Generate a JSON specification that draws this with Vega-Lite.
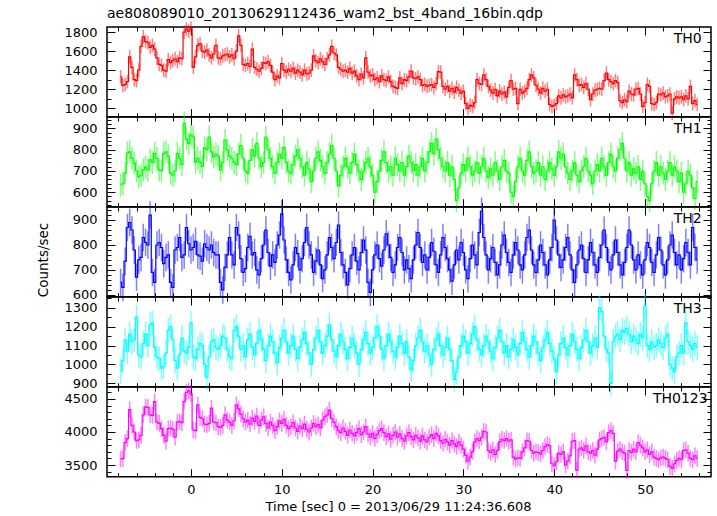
{
"$schema":"https://vega.github.io/schema/vega-lite/v6.json",
"background":"white",
"padding":{"left":35,"top":6,"right":6,"bottom":3},
"bounds":"flush",
"spacing":0,
"title":{"text":"ae808089010_20130629112436_wam2_bst_4band_16bin.qdp","anchor":"start","frame":"group","font":"DejaVu Sans","fontSize":14,"fontWeight":"normal","color":"#000","baseline":"alphabetic","offset":-12},
"config":{"view":{"stroke":"#000","strokeWidth":1.5},"concat":{"spacing":0},
"axis":{"grid":false,"domain":false,"tickColor":"#000","tickWidth":1,"labelFont":"DejaVu Sans","labelFontSize":13,"labelColor":"#000","titleFont":"DejaVu Sans","titleFontSize":13.5,"titleFontWeight":"normal","titleColor":"#000","labelOverlap":false,"labelFlush":false}},
"data":{"values":[
{"t":-7.75,"a":1330,"b":634,"c":650,"d":965,"e":3590,"ea":72,"eb":54,"ec":55,"ed":66,"ee":125},
{"t":-7.5,"a":1240,"b":640,"c":630,"d":1020,"e":3600,"ea":72,"eb":54,"ec":55,"ed":66,"ee":125},
{"t":-7.25,"a":1250,"b":690,"c":735,"d":1130,"e":3840,"ea":72,"eb":54,"ec":55,"ed":66,"ee":125},
{"t":-7,"a":1280,"b":784,"c":870,"d":1070,"e":3900,"ea":72,"eb":54,"ec":55,"ed":66,"ee":125},
{"t":-6.75,"a":1540,"b":790,"c":890,"d":1160,"e":4340,"ea":72,"eb":54,"ec":55,"ed":66,"ee":125},
{"t":-6.5,"a":1430,"b":760,"c":860,"d":1120,"e":4100,"ea":72,"eb":54,"ec":55,"ed":66,"ee":125},
{"t":-6.25,"a":1300,"b":737,"c":780,"d":1130,"e":4000,"ea":72,"eb":54,"ec":55,"ed":66,"ee":125},
{"t":-6,"a":1290,"b":700,"c":671,"d":1250,"e":3870,"ea":72,"eb":54,"ec":55,"ed":66,"ee":125},
{"t":-5.75,"a":1400,"b":672,"c":740,"d":1050,"e":3880,"ea":72,"eb":54,"ec":55,"ed":66,"ee":125},
{"t":-5.5,"a":1650,"b":680,"c":750,"d":1040,"e":3950,"ea":72,"eb":54,"ec":55,"ed":66,"ee":125},
{"t":-5.25,"a":1750,"b":705,"c":830,"d":1110,"e":4260,"ea":72,"eb":54,"ec":55,"ed":66,"ee":125},
{"t":-5,"a":1700,"b":720,"c":810,"d":1160,"e":4380,"ea":72,"eb":54,"ec":55,"ed":66,"ee":125},
{"t":-4.75,"a":1690,"b":705,"c":800,"d":1100,"e":4370,"ea":72,"eb":54,"ec":55,"ed":66,"ee":125},
{"t":-4.5,"a":1640,"b":752,"c":920,"d":1210,"e":4260,"ea":72,"eb":54,"ec":55,"ed":66,"ee":125},
{"t":-4.25,"a":1660,"b":740,"c":690,"d":1220,"e":4250,"ea":72,"eb":54,"ec":55,"ed":66,"ee":125},
{"t":-4,"a":1620,"b":783,"c":650,"d":1090,"e":4460,"ea":72,"eb":54,"ec":55,"ed":66,"ee":125},
{"t":-3.75,"a":1530,"b":760,"c":800,"d":1040,"e":4150,"ea":72,"eb":54,"ec":55,"ed":66,"ee":125},
{"t":-3.5,"a":1460,"b":705,"c":810,"d":1030,"e":4130,"ea":72,"eb":54,"ec":55,"ed":66,"ee":125},
{"t":-3.25,"a":1450,"b":700,"c":790,"d":980,"e":4050,"ea":72,"eb":54,"ec":55,"ed":66,"ee":125},
{"t":-3,"a":1400,"b":783,"c":725,"d":990,"e":3950,"ea":72,"eb":54,"ec":55,"ed":66,"ee":125},
{"t":-2.75,"a":1390,"b":790,"c":750,"d":1060,"e":3860,"ea":72,"eb":54,"ec":55,"ed":66,"ee":125},
{"t":-2.5,"a":1510,"b":770,"c":760,"d":1180,"e":4050,"ea":72,"eb":54,"ec":55,"ed":66,"ee":125},
{"t":-2.25,"a":1480,"b":690,"c":650,"d":1200,"e":4060,"ea":72,"eb":54,"ec":55,"ed":66,"ee":125},
{"t":-2,"a":1500,"b":680,"c":630,"d":1130,"e":4040,"ea":72,"eb":54,"ec":55,"ed":66,"ee":125},
{"t":-1.75,"a":1520,"b":700,"c":780,"d":1020,"e":3920,"ea":72,"eb":54,"ec":55,"ed":66,"ee":125},
{"t":-1.5,"a":1490,"b":783,"c":790,"d":980,"e":4150,"ea":72,"eb":54,"ec":55,"ed":66,"ee":125},
{"t":-1.25,"a":1530,"b":760,"c":830,"d":1050,"e":4160,"ea":72,"eb":54,"ec":55,"ed":66,"ee":125},
{"t":-1,"a":1520,"b":730,"c":750,"d":1140,"e":4140,"ea":72,"eb":54,"ec":55,"ed":66,"ee":125},
{"t":-0.75,"a":1800,"b":925,"c":760,"d":1070,"e":4460,"ea":72,"eb":54,"ec":55,"ed":66,"ee":125},
{"t":-0.5,"a":1830,"b":850,"c":870,"d":1060,"e":4600,"ea":72,"eb":54,"ec":55,"ed":66,"ee":125},
{"t":-0.25,"a":1810,"b":830,"c":805,"d":1090,"e":4620,"ea":72,"eb":54,"ec":55,"ed":66,"ee":125},
{"t":0,"a":1840,"b":870,"c":780,"d":1220,"e":4580,"ea":72,"eb":54,"ec":55,"ed":66,"ee":125},
{"t":0.25,"a":1430,"b":860,"c":790,"d":1040,"e":4030,"ea":72,"eb":54,"ec":55,"ed":66,"ee":125},
{"t":0.5,"a":1540,"b":742,"c":815,"d":1030,"e":4020,"ea":72,"eb":54,"ec":55,"ed":66,"ee":125},
{"t":0.75,"a":1660,"b":760,"c":760,"d":1080,"e":4410,"ea":72,"eb":54,"ec":55,"ed":66,"ee":125},
{"t":1,"a":1680,"b":740,"c":755,"d":1110,"e":4220,"ea":72,"eb":54,"ec":55,"ed":66,"ee":125},
{"t":1.25,"a":1600,"b":720,"c":735,"d":1100,"e":4200,"ea":72,"eb":54,"ec":55,"ed":66,"ee":125},
{"t":1.5,"a":1590,"b":810,"c":805,"d":1000,"e":4120,"ea":72,"eb":54,"ec":55,"ed":66,"ee":125},
{"t":1.75,"a":1610,"b":800,"c":790,"d":930,"e":4110,"ea":72,"eb":54,"ec":55,"ed":66,"ee":125},
{"t":2,"a":1560,"b":860,"c":780,"d":1040,"e":4130,"ea":72,"eb":54,"ec":55,"ed":66,"ee":125},
{"t":2.25,"a":1530,"b":790,"c":800,"d":1120,"e":4360,"ea":72,"eb":54,"ec":55,"ed":66,"ee":125},
{"t":2.5,"a":1570,"b":766,"c":770,"d":1130,"e":4150,"ea":72,"eb":54,"ec":55,"ed":66,"ee":125},
{"t":2.75,"a":1660,"b":780,"c":760,"d":1090,"e":4140,"ea":72,"eb":54,"ec":55,"ed":66,"ee":125},
{"t":3,"a":1530,"b":770,"c":760,"d":1080,"e":4080,"ea":72,"eb":54,"ec":55,"ed":66,"ee":125},
{"t":3.25,"a":1520,"b":705,"c":650,"d":1100,"e":4070,"ea":72,"eb":54,"ec":55,"ed":66,"ee":125},
{"t":3.5,"a":1550,"b":740,"c":620,"d":1150,"e":4100,"ea":72,"eb":54,"ec":55,"ed":66,"ee":125},
{"t":3.75,"a":1560,"b":845,"c":710,"d":1140,"e":4260,"ea":72,"eb":54,"ec":55,"ed":66,"ee":125},
{"t":4,"a":1570,"b":800,"c":760,"d":1080,"e":4180,"ea":72,"eb":54,"ec":55,"ed":66,"ee":125},
{"t":4.25,"a":1540,"b":770,"c":830,"d":1040,"e":4150,"ea":72,"eb":54,"ec":55,"ed":66,"ee":125},
{"t":4.5,"a":1560,"b":760,"c":760,"d":1030,"e":4100,"ea":72,"eb":54,"ec":55,"ed":66,"ee":125},
{"t":4.75,"a":1520,"b":740,"c":720,"d":1180,"e":4170,"ea":72,"eb":54,"ec":55,"ed":66,"ee":125},
{"t":5,"a":1600,"b":730,"c":870,"d":1200,"e":4410,"ea":72,"eb":54,"ec":55,"ed":66,"ee":125},
{"t":5.25,"a":1760,"b":780,"c":840,"d":1150,"e":4350,"ea":72,"eb":54,"ec":55,"ed":66,"ee":125},
{"t":5.5,"a":1660,"b":820,"c":745,"d":1080,"e":4270,"ea":72,"eb":54,"ec":55,"ed":66,"ee":125},
{"t":5.75,"a":1460,"b":760,"c":690,"d":1100,"e":4200,"ea":72,"eb":54,"ec":55,"ed":66,"ee":125},
{"t":6,"a":1450,"b":700,"c":705,"d":1040,"e":4150,"ea":72,"eb":54,"ec":55,"ed":66,"ee":125},
{"t":6.25,"a":1470,"b":690,"c":790,"d":1130,"e":4180,"ea":72,"eb":54,"ec":55,"ed":66,"ee":125},
{"t":6.5,"a":1440,"b":750,"c":835,"d":1160,"e":4120,"ea":72,"eb":54,"ec":55,"ed":66,"ee":125},
{"t":6.75,"a":1620,"b":800,"c":760,"d":1090,"e":4210,"ea":72,"eb":54,"ec":55,"ed":66,"ee":125},
{"t":7,"a":1430,"b":770,"c":770,"d":1050,"e":4160,"ea":72,"eb":54,"ec":55,"ed":66,"ee":125},
{"t":7.25,"a":1410,"b":830,"c":700,"d":1110,"e":4240,"ea":72,"eb":54,"ec":55,"ed":66,"ee":125},
{"t":7.5,"a":1390,"b":760,"c":680,"d":1180,"e":4100,"ea":72,"eb":54,"ec":55,"ed":66,"ee":125},
{"t":7.75,"a":1420,"b":720,"c":745,"d":1130,"e":4180,"ea":72,"eb":54,"ec":55,"ed":66,"ee":125},
{"t":8,"a":1480,"b":740,"c":800,"d":1080,"e":4230,"ea":72,"eb":54,"ec":55,"ed":66,"ee":125},
{"t":8.25,"a":1470,"b":860,"c":860,"d":1020,"e":4130,"ea":72,"eb":54,"ec":55,"ed":66,"ee":125},
{"t":8.5,"a":1490,"b":800,"c":770,"d":1100,"e":4060,"ea":72,"eb":54,"ec":55,"ed":66,"ee":125},
{"t":8.75,"a":1450,"b":760,"c":715,"d":1150,"e":4150,"ea":72,"eb":54,"ec":55,"ed":66,"ee":125},
{"t":9,"a":1380,"b":720,"c":760,"d":1120,"e":4100,"ea":72,"eb":54,"ec":55,"ed":66,"ee":125},
{"t":9.25,"a":1300,"b":690,"c":730,"d":1060,"e":4020,"ea":72,"eb":54,"ec":55,"ed":66,"ee":125},
{"t":9.5,"a":1340,"b":740,"c":800,"d":1010,"e":4080,"ea":72,"eb":54,"ec":55,"ed":66,"ee":125},
{"t":9.75,"a":1320,"b":780,"c":840,"d":1090,"e":4170,"ea":72,"eb":54,"ec":55,"ed":66,"ee":125},
{"t":10,"a":1470,"b":760,"c":925,"d":1140,"e":4130,"ea":72,"eb":54,"ec":55,"ed":66,"ee":125},
{"t":10.25,"a":1400,"b":810,"c":820,"d":1180,"e":4190,"ea":72,"eb":54,"ec":55,"ed":66,"ee":125},
{"t":10.5,"a":1380,"b":740,"c":740,"d":1120,"e":4100,"ea":72,"eb":54,"ec":55,"ed":66,"ee":125},
{"t":10.75,"a":1410,"b":700,"c":690,"d":1060,"e":4050,"ea":72,"eb":54,"ec":55,"ed":66,"ee":125},
{"t":11,"a":1390,"b":690,"c":660,"d":1100,"e":4080,"ea":72,"eb":54,"ec":55,"ed":66,"ee":125},
{"t":11.25,"a":1420,"b":730,"c":720,"d":1150,"e":4140,"ea":72,"eb":54,"ec":55,"ed":66,"ee":125},
{"t":11.5,"a":1370,"b":770,"c":790,"d":1080,"e":4060,"ea":72,"eb":54,"ec":55,"ed":66,"ee":125},
{"t":11.75,"a":1400,"b":800,"c":765,"d":1030,"e":4010,"ea":72,"eb":54,"ec":55,"ed":66,"ee":125},
{"t":12,"a":1380,"b":760,"c":700,"d":1090,"e":4090,"ea":72,"eb":54,"ec":55,"ed":66,"ee":125},
{"t":12.25,"a":1350,"b":720,"c":745,"d":1130,"e":4050,"ea":72,"eb":54,"ec":55,"ed":66,"ee":125},
{"t":12.5,"a":1400,"b":680,"c":810,"d":1170,"e":4120,"ea":72,"eb":54,"ec":55,"ed":66,"ee":125},
{"t":12.75,"a":1360,"b":740,"c":870,"d":1110,"e":4040,"ea":72,"eb":54,"ec":55,"ed":66,"ee":125},
{"t":13,"a":1370,"b":710,"c":800,"d":1060,"e":4000,"ea":72,"eb":54,"ec":55,"ed":66,"ee":125},
{"t":13.25,"a":1400,"b":650,"c":760,"d":1000,"e":4060,"ea":72,"eb":54,"ec":55,"ed":66,"ee":125},
{"t":13.5,"a":1550,"b":700,"c":690,"d":1080,"e":4130,"ea":72,"eb":54,"ec":55,"ed":66,"ee":125},
{"t":13.75,"a":1500,"b":760,"c":735,"d":1140,"e":4080,"ea":72,"eb":54,"ec":55,"ed":66,"ee":125},
{"t":14,"a":1480,"b":790,"c":780,"d":1180,"e":4110,"ea":72,"eb":54,"ec":55,"ed":66,"ee":125},
{"t":14.25,"a":1520,"b":750,"c":720,"d":1120,"e":4060,"ea":72,"eb":54,"ec":55,"ed":66,"ee":125},
{"t":14.5,"a":1490,"b":720,"c":665,"d":1060,"e":4180,"ea":72,"eb":54,"ec":55,"ed":66,"ee":125},
{"t":14.75,"a":1460,"b":690,"c":700,"d":1100,"e":4230,"ea":72,"eb":54,"ec":55,"ed":66,"ee":125},
{"t":15,"a":1520,"b":740,"c":760,"d":1150,"e":4260,"ea":72,"eb":54,"ec":55,"ed":66,"ee":125},
{"t":15.25,"a":1560,"b":780,"c":830,"d":1210,"e":4330,"ea":72,"eb":54,"ec":55,"ed":66,"ee":125},
{"t":15.5,"a":1650,"b":820,"c":790,"d":1130,"e":4200,"ea":72,"eb":54,"ec":55,"ed":66,"ee":125},
{"t":15.75,"a":1580,"b":760,"c":745,"d":1070,"e":4150,"ea":72,"eb":54,"ec":55,"ed":66,"ee":125},
{"t":16,"a":1560,"b":700,"c":810,"d":1040,"e":4080,"ea":72,"eb":54,"ec":55,"ed":66,"ee":125},
{"t":16.25,"a":1430,"b":630,"c":880,"d":1100,"e":4020,"ea":72,"eb":54,"ec":55,"ed":66,"ee":125},
{"t":16.5,"a":1410,"b":680,"c":770,"d":1160,"e":3990,"ea":72,"eb":54,"ec":55,"ed":66,"ee":125},
{"t":16.75,"a":1390,"b":720,"c":720,"d":1120,"e":4060,"ea":72,"eb":54,"ec":55,"ed":66,"ee":125},
{"t":17,"a":1400,"b":760,"c":690,"d":1080,"e":4010,"ea":72,"eb":54,"ec":55,"ed":66,"ee":125},
{"t":17.25,"a":1380,"b":720,"c":640,"d":1030,"e":3950,"ea":72,"eb":54,"ec":55,"ed":66,"ee":125},
{"t":17.5,"a":1420,"b":690,"c":705,"d":1090,"e":4030,"ea":72,"eb":54,"ec":55,"ed":66,"ee":125},
{"t":17.75,"a":1370,"b":740,"c":760,"d":1140,"e":3980,"ea":72,"eb":54,"ec":55,"ed":66,"ee":125},
{"t":18,"a":1390,"b":780,"c":790,"d":1100,"e":3940,"ea":72,"eb":54,"ec":55,"ed":66,"ee":125},
{"t":18.25,"a":1340,"b":730,"c":735,"d":1060,"e":3990,"ea":72,"eb":54,"ec":55,"ed":66,"ee":125},
{"t":18.5,"a":1300,"b":700,"c":700,"d":1000,"e":4050,"ea":72,"eb":54,"ec":55,"ed":66,"ee":125},
{"t":18.75,"a":1360,"b":660,"c":770,"d":1080,"e":3960,"ea":72,"eb":54,"ec":55,"ed":66,"ee":125},
{"t":19,"a":1320,"b":700,"c":820,"d":1130,"e":4000,"ea":72,"eb":54,"ec":55,"ed":66,"ee":125},
{"t":19.25,"a":1530,"b":740,"c":780,"d":1170,"e":4080,"ea":72,"eb":54,"ec":55,"ed":66,"ee":125},
{"t":19.5,"a":1380,"b":760,"c":650,"d":1110,"e":3970,"ea":72,"eb":54,"ec":55,"ed":66,"ee":125},
{"t":19.75,"a":1340,"b":720,"c":610,"d":1060,"e":3920,"ea":72,"eb":54,"ec":55,"ed":66,"ee":125},
{"t":20,"a":1350,"b":680,"c":700,"d":1090,"e":3980,"ea":72,"eb":54,"ec":55,"ed":66,"ee":125},
{"t":20.25,"a":1300,"b":600,"c":760,"d":1140,"e":3900,"ea":72,"eb":54,"ec":55,"ed":66,"ee":125},
{"t":20.5,"a":1320,"b":650,"c":800,"d":1200,"e":3960,"ea":72,"eb":54,"ec":55,"ed":66,"ee":125},
{"t":20.75,"a":1280,"b":700,"c":745,"d":1150,"e":4020,"ea":72,"eb":54,"ec":55,"ed":66,"ee":125},
{"t":21,"a":1340,"b":750,"c":715,"d":1080,"e":4050,"ea":72,"eb":54,"ec":55,"ed":66,"ee":125},
{"t":21.25,"a":1300,"b":790,"c":780,"d":1030,"e":3990,"ea":72,"eb":54,"ec":55,"ed":66,"ee":125},
{"t":21.5,"a":1290,"b":740,"c":845,"d":1100,"e":3930,"ea":72,"eb":54,"ec":55,"ed":66,"ee":125},
{"t":21.75,"a":1330,"b":700,"c":800,"d":1160,"e":3970,"ea":72,"eb":54,"ec":55,"ed":66,"ee":125},
{"t":22,"a":1280,"b":720,"c":750,"d":1120,"e":3890,"ea":72,"eb":54,"ec":55,"ed":66,"ee":125},
{"t":22.25,"a":1230,"b":680,"c":690,"d":1070,"e":3950,"ea":72,"eb":54,"ec":55,"ed":66,"ee":125},
{"t":22.5,"a":1220,"b":760,"c":720,"d":1040,"e":4000,"ea":72,"eb":54,"ec":55,"ed":66,"ee":125},
{"t":22.75,"a":1210,"b":730,"c":790,"d":1090,"e":3920,"ea":72,"eb":54,"ec":55,"ed":66,"ee":125},
{"t":23,"a":1320,"b":700,"c":830,"d":1150,"e":3970,"ea":72,"eb":54,"ec":55,"ed":66,"ee":125},
{"t":23.25,"a":1260,"b":740,"c":770,"d":1110,"e":3900,"ea":72,"eb":54,"ec":55,"ed":66,"ee":125},
{"t":23.5,"a":1300,"b":680,"c":700,"d":1060,"e":3860,"ea":72,"eb":54,"ec":55,"ed":66,"ee":125},
{"t":23.75,"a":1290,"b":720,"c":740,"d":1120,"e":3940,"ea":72,"eb":54,"ec":55,"ed":66,"ee":125},
{"t":24,"a":1330,"b":770,"c":705,"d":1040,"e":3990,"ea":72,"eb":54,"ec":55,"ed":66,"ee":125},
{"t":24.25,"a":1390,"b":740,"c":665,"d":970,"e":3930,"ea":72,"eb":54,"ec":55,"ed":66,"ee":125},
{"t":24.5,"a":1320,"b":700,"c":740,"d":1020,"e":3880,"ea":72,"eb":54,"ec":55,"ed":66,"ee":125},
{"t":24.75,"a":1310,"b":730,"c":800,"d":1100,"e":3950,"ea":72,"eb":54,"ec":55,"ed":66,"ee":125},
{"t":25,"a":1330,"b":680,"c":850,"d":1140,"e":3910,"ea":72,"eb":54,"ec":55,"ed":66,"ee":125},
{"t":25.25,"a":1300,"b":720,"c":790,"d":1180,"e":3860,"ea":72,"eb":54,"ec":55,"ed":66,"ee":125},
{"t":25.5,"a":1240,"b":760,"c":730,"d":1120,"e":3940,"ea":72,"eb":54,"ec":55,"ed":66,"ee":125},
{"t":25.75,"a":1250,"b":700,"c":760,"d":1070,"e":3880,"ea":72,"eb":54,"ec":55,"ed":66,"ee":125},
{"t":26,"a":1230,"b":740,"c":700,"d":1100,"e":3850,"ea":72,"eb":54,"ec":55,"ed":66,"ee":125},
{"t":26.25,"a":1240,"b":790,"c":750,"d":1050,"e":3920,"ea":72,"eb":54,"ec":55,"ed":66,"ee":125},
{"t":26.5,"a":1250,"b":830,"c":810,"d":1000,"e":3960,"ea":72,"eb":54,"ec":55,"ed":66,"ee":125},
{"t":26.75,"a":1220,"b":780,"c":775,"d":1080,"e":3900,"ea":72,"eb":54,"ec":55,"ed":66,"ee":125},
{"t":27,"a":1260,"b":850,"c":720,"d":1130,"e":3980,"ea":72,"eb":54,"ec":55,"ed":66,"ee":125},
{"t":27.25,"a":1385,"b":800,"c":690,"d":1160,"e":3940,"ea":72,"eb":54,"ec":55,"ed":66,"ee":125},
{"t":27.5,"a":1380,"b":760,"c":760,"d":1100,"e":3870,"ea":72,"eb":54,"ec":55,"ed":66,"ee":125},
{"t":27.75,"a":1230,"b":720,"c":830,"d":1050,"e":3830,"ea":72,"eb":54,"ec":55,"ed":66,"ee":125},
{"t":28,"a":1200,"b":700,"c":790,"d":1090,"e":3890,"ea":72,"eb":54,"ec":55,"ed":66,"ee":125},
{"t":28.25,"a":1230,"b":740,"c":745,"d":1140,"e":3850,"ea":72,"eb":54,"ec":55,"ed":66,"ee":125},
{"t":28.5,"a":1180,"b":680,"c":700,"d":1080,"e":3800,"ea":72,"eb":54,"ec":55,"ed":66,"ee":125},
{"t":28.75,"a":1210,"b":720,"c":655,"d":1020,"e":3870,"ea":72,"eb":54,"ec":55,"ed":66,"ee":125},
{"t":29,"a":1170,"b":660,"c":720,"d":920,"e":3820,"ea":72,"eb":54,"ec":55,"ed":66,"ee":125},
{"t":29.25,"a":1220,"b":560,"c":780,"d":960,"e":3780,"ea":72,"eb":54,"ec":55,"ed":66,"ee":125},
{"t":29.5,"a":1190,"b":620,"c":740,"d":1040,"e":3850,"ea":72,"eb":54,"ec":55,"ed":66,"ee":125},
{"t":29.75,"a":1160,"b":690,"c":810,"d":1100,"e":3800,"ea":72,"eb":54,"ec":55,"ed":66,"ee":125},
{"t":30,"a":1180,"b":730,"c":770,"d":1150,"e":3740,"ea":72,"eb":54,"ec":55,"ed":66,"ee":125},
{"t":30.25,"a":1050,"b":700,"c":700,"d":1120,"e":3650,"ea":72,"eb":54,"ec":55,"ed":66,"ee":125},
{"t":30.5,"a":1000,"b":760,"c":665,"d":1060,"e":3560,"ea":72,"eb":54,"ec":55,"ed":66,"ee":125},
{"t":30.75,"a":1030,"b":720,"c":745,"d":1110,"e":3620,"ea":72,"eb":54,"ec":55,"ed":66,"ee":125},
{"t":31,"a":1020,"b":680,"c":800,"d":1160,"e":3700,"ea":72,"eb":54,"ec":55,"ed":66,"ee":125},
{"t":31.25,"a":1060,"b":700,"c":760,"d":1200,"e":3850,"ea":72,"eb":54,"ec":55,"ed":66,"ee":125},
{"t":31.5,"a":1300,"b":740,"c":720,"d":1130,"e":3900,"ea":72,"eb":54,"ec":55,"ed":66,"ee":125},
{"t":31.75,"a":1260,"b":690,"c":850,"d":1080,"e":3870,"ea":72,"eb":54,"ec":55,"ed":66,"ee":125},
{"t":32,"a":1250,"b":720,"c":935,"d":1050,"e":3920,"ea":72,"eb":54,"ec":55,"ed":66,"ee":125},
{"t":32.25,"a":1350,"b":760,"c":830,"d":1100,"e":4010,"ea":72,"eb":54,"ec":55,"ed":66,"ee":125},
{"t":32.5,"a":1300,"b":700,"c":760,"d":1150,"e":4000,"ea":72,"eb":54,"ec":55,"ed":66,"ee":125},
{"t":32.75,"a":1230,"b":670,"c":700,"d":1120,"e":3720,"ea":72,"eb":54,"ec":55,"ed":66,"ee":125},
{"t":33,"a":1190,"b":710,"c":745,"d":1070,"e":3690,"ea":72,"eb":54,"ec":55,"ed":66,"ee":125},
{"t":33.25,"a":1160,"b":680,"c":790,"d":1030,"e":3730,"ea":72,"eb":54,"ec":55,"ed":66,"ee":125},
{"t":33.5,"a":1200,"b":740,"c":730,"d":1090,"e":3660,"ea":72,"eb":54,"ec":55,"ed":66,"ee":125},
{"t":33.75,"a":1130,"b":700,"c":680,"d":1140,"e":3720,"ea":72,"eb":54,"ec":55,"ed":66,"ee":125},
{"t":34,"a":1180,"b":660,"c":720,"d":1180,"e":3850,"ea":72,"eb":54,"ec":55,"ed":66,"ee":125},
{"t":34.25,"a":1150,"b":720,"c":800,"d":1120,"e":3890,"ea":72,"eb":54,"ec":55,"ed":66,"ee":125},
{"t":34.5,"a":1170,"b":750,"c":840,"d":1060,"e":3870,"ea":72,"eb":54,"ec":55,"ed":66,"ee":125},
{"t":34.75,"a":1120,"b":700,"c":770,"d":1100,"e":3900,"ea":72,"eb":54,"ec":55,"ed":66,"ee":125},
{"t":35,"a":1220,"b":690,"c":730,"d":1040,"e":3860,"ea":72,"eb":54,"ec":55,"ed":66,"ee":125},
{"t":35.25,"a":1290,"b":600,"c":690,"d":1080,"e":3880,"ea":72,"eb":54,"ec":55,"ed":66,"ee":125},
{"t":35.5,"a":1200,"b":580,"c":760,"d":1130,"e":3620,"ea":72,"eb":54,"ec":55,"ed":66,"ee":125},
{"t":35.75,"a":1210,"b":650,"c":810,"d":1090,"e":3590,"ea":72,"eb":54,"ec":55,"ed":66,"ee":125},
{"t":36,"a":1050,"b":720,"c":780,"d":1050,"e":3610,"ea":72,"eb":54,"ec":55,"ed":66,"ee":125},
{"t":36.25,"a":1200,"b":760,"c":720,"d":1110,"e":3600,"ea":72,"eb":54,"ec":55,"ed":66,"ee":125},
{"t":36.5,"a":1160,"b":700,"c":700,"d":1170,"e":3700,"ea":72,"eb":54,"ec":55,"ed":66,"ee":125},
{"t":36.75,"a":1180,"b":680,"c":760,"d":1120,"e":3760,"ea":72,"eb":54,"ec":55,"ed":66,"ee":125},
{"t":37,"a":1210,"b":750,"c":830,"d":1080,"e":3870,"ea":72,"eb":54,"ec":55,"ed":66,"ee":125},
{"t":37.25,"a":1300,"b":790,"c":860,"d":1040,"e":3860,"ea":72,"eb":54,"ec":55,"ed":66,"ee":125},
{"t":37.5,"a":1350,"b":720,"c":780,"d":1100,"e":3720,"ea":72,"eb":54,"ec":55,"ed":66,"ee":125},
{"t":37.75,"a":1320,"b":690,"c":720,"d":1150,"e":3680,"ea":72,"eb":54,"ec":55,"ed":66,"ee":125},
{"t":38,"a":1240,"b":700,"c":690,"d":1120,"e":3700,"ea":72,"eb":54,"ec":55,"ed":66,"ee":125},
{"t":38.25,"a":1200,"b":740,"c":740,"d":1060,"e":3690,"ea":72,"eb":54,"ec":55,"ed":66,"ee":125},
{"t":38.5,"a":1160,"b":680,"c":800,"d":1020,"e":3670,"ea":72,"eb":54,"ec":55,"ed":66,"ee":125},
{"t":38.75,"a":1210,"b":720,"c":770,"d":1090,"e":3720,"ea":72,"eb":54,"ec":55,"ed":66,"ee":125},
{"t":39,"a":1180,"b":660,"c":720,"d":1130,"e":3780,"ea":72,"eb":54,"ec":55,"ed":66,"ee":125},
{"t":39.25,"a":1200,"b":700,"c":680,"d":1170,"e":3810,"ea":72,"eb":54,"ec":55,"ed":66,"ee":125},
{"t":39.5,"a":1040,"b":740,"c":740,"d":1110,"e":3790,"ea":72,"eb":54,"ec":55,"ed":66,"ee":125},
{"t":39.75,"a":1020,"b":710,"c":790,"d":1070,"e":3520,"ea":72,"eb":54,"ec":55,"ed":66,"ee":125},
{"t":40,"a":1030,"b":680,"c":900,"d":1030,"e":3490,"ea":72,"eb":54,"ec":55,"ed":66,"ee":125},
{"t":40.25,"a":1050,"b":720,"c":820,"d":960,"e":3550,"ea":72,"eb":54,"ec":55,"ed":66,"ee":125},
{"t":40.5,"a":1130,"b":790,"c":760,"d":1050,"e":3680,"ea":72,"eb":54,"ec":55,"ed":66,"ee":125},
{"t":40.75,"a":1110,"b":760,"c":710,"d":1110,"e":3660,"ea":72,"eb":54,"ec":55,"ed":66,"ee":125},
{"t":41,"a":1140,"b":780,"c":740,"d":1140,"e":3700,"ea":72,"eb":54,"ec":55,"ed":66,"ee":125},
{"t":41.25,"a":1120,"b":720,"c":790,"d":1090,"e":3500,"ea":72,"eb":54,"ec":55,"ed":66,"ee":125},
{"t":41.5,"a":1130,"b":690,"c":830,"d":1050,"e":3560,"ea":72,"eb":54,"ec":55,"ed":66,"ee":125},
{"t":41.75,"a":1150,"b":660,"c":760,"d":1100,"e":3640,"ea":72,"eb":54,"ec":55,"ed":66,"ee":125},
{"t":42,"a":1110,"b":700,"c":700,"d":1160,"e":3860,"ea":72,"eb":54,"ec":55,"ed":66,"ee":125},
{"t":42.25,"a":1350,"b":740,"c":650,"d":1120,"e":3870,"ea":72,"eb":54,"ec":55,"ed":66,"ee":125},
{"t":42.5,"a":1300,"b":680,"c":720,"d":1080,"e":3420,"ea":72,"eb":54,"ec":55,"ed":66,"ee":125},
{"t":42.75,"a":1240,"b":650,"c":780,"d":1030,"e":3740,"ea":72,"eb":54,"ec":55,"ed":66,"ee":125},
{"t":43,"a":1250,"b":700,"c":800,"d":1090,"e":3760,"ea":72,"eb":54,"ec":55,"ed":66,"ee":125},
{"t":43.25,"a":1220,"b":720,"c":745,"d":1130,"e":3720,"ea":72,"eb":54,"ec":55,"ed":66,"ee":125},
{"t":43.5,"a":1260,"b":760,"c":690,"d":1180,"e":3790,"ea":72,"eb":54,"ec":55,"ed":66,"ee":125},
{"t":43.75,"a":1200,"b":700,"c":740,"d":1120,"e":3700,"ea":72,"eb":54,"ec":55,"ed":66,"ee":125},
{"t":44,"a":1090,"b":680,"c":810,"d":1060,"e":3680,"ea":72,"eb":54,"ec":55,"ed":66,"ee":125},
{"t":44.25,"a":1150,"b":640,"c":770,"d":1100,"e":3720,"ea":72,"eb":54,"ec":55,"ed":66,"ee":125},
{"t":44.5,"a":1190,"b":700,"c":720,"d":1140,"e":3650,"ea":72,"eb":54,"ec":55,"ed":66,"ee":125},
{"t":44.75,"a":1200,"b":730,"c":690,"d":1090,"e":3740,"ea":72,"eb":54,"ec":55,"ed":66,"ee":125},
{"t":45,"a":1210,"b":700,"c":750,"d":1300,"e":3880,"ea":72,"eb":54,"ec":55,"ed":66,"ee":125},
{"t":45.25,"a":1200,"b":760,"c":800,"d":1280,"e":3900,"ea":72,"eb":54,"ec":55,"ed":66,"ee":125},
{"t":45.5,"a":1290,"b":720,"c":860,"d":1150,"e":3920,"ea":72,"eb":54,"ec":55,"ed":66,"ee":125},
{"t":45.75,"a":1370,"b":680,"c":790,"d":1080,"e":3850,"ea":72,"eb":54,"ec":55,"ed":66,"ee":125},
{"t":46,"a":1300,"b":740,"c":730,"d":1060,"e":3990,"ea":72,"eb":54,"ec":55,"ed":66,"ee":125},
{"t":46.25,"a":1280,"b":780,"c":700,"d":900,"e":4020,"ea":72,"eb":54,"ec":55,"ed":66,"ee":125},
{"t":46.5,"a":1260,"b":720,"c":760,"d":1120,"e":3980,"ea":72,"eb":54,"ec":55,"ed":66,"ee":125},
{"t":46.75,"a":1290,"b":700,"c":820,"d":1150,"e":3560,"ea":72,"eb":54,"ec":55,"ed":66,"ee":125},
{"t":47,"a":1270,"b":760,"c":770,"d":1160,"e":3710,"ea":72,"eb":54,"ec":55,"ed":66,"ee":125},
{"t":47.25,"a":1080,"b":800,"c":720,"d":1130,"e":3740,"ea":72,"eb":54,"ec":55,"ed":66,"ee":125},
{"t":47.5,"a":1060,"b":830,"c":680,"d":1180,"e":3700,"ea":72,"eb":54,"ec":55,"ed":66,"ee":125},
{"t":47.75,"a":1090,"b":760,"c":730,"d":1170,"e":3680,"ea":72,"eb":54,"ec":55,"ed":66,"ee":125},
{"t":48,"a":1070,"b":700,"c":790,"d":1190,"e":3420,"ea":72,"eb":54,"ec":55,"ed":66,"ee":125},
{"t":48.25,"a":1180,"b":740,"c":860,"d":1160,"e":3720,"ea":72,"eb":54,"ec":55,"ed":66,"ee":125},
{"t":48.5,"a":1150,"b":680,"c":800,"d":1120,"e":3690,"ea":72,"eb":54,"ec":55,"ed":66,"ee":125},
{"t":48.75,"a":1140,"b":710,"c":740,"d":1150,"e":3740,"ea":72,"eb":54,"ec":55,"ed":66,"ee":125},
{"t":49,"a":1200,"b":690,"c":700,"d":1130,"e":3700,"ea":72,"eb":54,"ec":55,"ed":66,"ee":125},
{"t":49.25,"a":1210,"b":720,"c":760,"d":1110,"e":3840,"ea":72,"eb":54,"ec":55,"ed":66,"ee":125},
{"t":49.5,"a":1150,"b":660,"c":720,"d":1160,"e":3800,"ea":72,"eb":54,"ec":55,"ed":66,"ee":125},
{"t":49.75,"a":1020,"b":700,"c":680,"d":1140,"e":3760,"ea":72,"eb":54,"ec":55,"ed":66,"ee":125},
{"t":50,"a":1060,"b":640,"c":740,"d":1310,"e":3700,"ea":72,"eb":54,"ec":55,"ed":66,"ee":125},
{"t":50.25,"a":1250,"b":580,"c":810,"d":1100,"e":3730,"ea":72,"eb":54,"ec":55,"ed":66,"ee":125},
{"t":50.5,"a":1230,"b":560,"c":790,"d":1080,"e":3660,"ea":72,"eb":54,"ec":55,"ed":66,"ee":125},
{"t":50.75,"a":1050,"b":640,"c":730,"d":1120,"e":3700,"ea":72,"eb":54,"ec":55,"ed":66,"ee":125},
{"t":51,"a":1040,"b":700,"c":690,"d":1090,"e":3620,"ea":72,"eb":54,"ec":55,"ed":66,"ee":125},
{"t":51.25,"a":1060,"b":740,"c":760,"d":1100,"e":3600,"ea":72,"eb":54,"ec":55,"ed":66,"ee":125},
{"t":51.5,"a":1150,"b":680,"c":830,"d":1130,"e":3580,"ea":72,"eb":54,"ec":55,"ed":66,"ee":125},
{"t":51.75,"a":1140,"b":720,"c":780,"d":1110,"e":3610,"ea":72,"eb":54,"ec":55,"ed":66,"ee":125},
{"t":52,"a":1160,"b":690,"c":720,"d":1090,"e":3620,"ea":72,"eb":54,"ec":55,"ed":66,"ee":125},
{"t":52.25,"a":1120,"b":660,"c":680,"d":1140,"e":3600,"ea":72,"eb":54,"ec":55,"ed":66,"ee":125},
{"t":52.5,"a":1130,"b":700,"c":740,"d":1160,"e":3580,"ea":72,"eb":54,"ec":55,"ed":66,"ee":125},
{"t":52.75,"a":1150,"b":740,"c":800,"d":1000,"e":3480,"ea":72,"eb":54,"ec":55,"ed":66,"ee":125},
{"t":53,"a":950,"b":680,"c":840,"d":980,"e":3450,"ea":72,"eb":54,"ec":55,"ed":66,"ee":125},
{"t":53.25,"a":1100,"b":720,"c":770,"d":960,"e":3520,"ea":72,"eb":54,"ec":55,"ed":66,"ee":125},
{"t":53.5,"a":1120,"b":700,"c":720,"d":1040,"e":3570,"ea":72,"eb":54,"ec":55,"ed":66,"ee":125},
{"t":53.75,"a":1110,"b":650,"c":760,"d":1060,"e":3600,"ea":72,"eb":54,"ec":55,"ed":66,"ee":125},
{"t":54,"a":1120,"b":690,"c":700,"d":1100,"e":3580,"ea":72,"eb":54,"ec":55,"ed":66,"ee":125},
{"t":54.25,"a":1090,"b":600,"c":745,"d":1060,"e":3720,"ea":72,"eb":54,"ec":55,"ed":66,"ee":125},
{"t":54.5,"a":1130,"b":640,"c":810,"d":1220,"e":3730,"ea":72,"eb":54,"ec":55,"ed":66,"ee":125},
{"t":54.75,"a":1100,"b":700,"c":770,"d":1120,"e":3680,"ea":72,"eb":54,"ec":55,"ed":66,"ee":125},
{"t":55,"a":1230,"b":680,"c":720,"d":1100,"e":3600,"ea":72,"eb":54,"ec":55,"ed":66,"ee":125},
{"t":55.25,"a":1050,"b":620,"c":870,"d":1080,"e":3580,"ea":72,"eb":54,"ec":55,"ed":66,"ee":125},
{"t":55.5,"a":1080,"b":570,"c":790,"d":1110,"e":3640,"ea":72,"eb":54,"ec":55,"ed":66,"ee":125},
{"t":55.75,"a":1040,"b":650,"c":740,"d":1090,"e":3600,"ea":72,"eb":54,"ec":55,"ed":66,"ee":125}
]},
"vconcat":[
{"width":604,"height":89.7,
"layer":[
{"mark":{"type":"errorbar","color":"#ff0000","opacity":0.5,"thickness":1.5},
"encoding":{
"x":{"field":"t","type":"quantitative","scale":{"domain":[-9.25,57.27],"nice":false,"zero":false},"axis":{"orient":"bottom","values":[-8,-6,-4,-2,0,2,4,6,8,10,12,14,16,18,20,22,24,26,28,30,32,34,36,38,40,42,44,46,48,50,52,54,56],"labels":false,"title":null,"tickSize":{"condition":{"test":"datum.value % 10 === 0","value":-8},"value":-4}}},
"y":{"field":"a","type":"quantitative","scale":{"domain":[912,1853],"nice":false,"zero":false},"axis":{"orient":"left","values":[1000,1100,1200,1300,1400,1500,1600,1700,1800],"format":"d","labelExpr":"datum.value % 200 === 0 ? datum.label : ''","labelPadding":18,"title":null,"tickSize":{"condition":{"test":"datum.value % 200 === 0","value":-8},"value":-4}}},
"yError":{"field":"ea"}}},
{"mark":{"type":"line","interpolate":"step","color":"#ff0000","strokeWidth":1.2},
"encoding":{
"x":{"field":"t","type":"quantitative","scale":{"domain":[-9.25,57.27],"nice":false,"zero":false},"axis":{"orient":"top","values":[-8,-6,-4,-2,0,2,4,6,8,10,12,14,16,18,20,22,24,26,28,30,32,34,36,38,40,42,44,46,48,50,52,54,56],"labels":false,"title":null,"tickSize":{"condition":{"test":"datum.value % 10 === 0","value":-8},"value":-4}}},
"y":{"field":"a","type":"quantitative","scale":{"domain":[912,1853],"nice":false,"zero":false},"axis":{"orient":"right","values":[1000,1100,1200,1300,1400,1500,1600,1700,1800],"labels":false,"title":null,"tickSize":{"condition":{"test":"datum.value % 200 === 0","value":-8},"value":-4}}}}},
{"data":{"values":[{"lab":"TH0"}]},
"mark":{"type":"text","align":"right","baseline":"alphabetic","font":"DejaVu Sans","fontSize":14,"color":"#000"},
"encoding":{
"x":{"datum":56.25,"type":"quantitative","scale":{"domain":[-9.25,57.27],"nice":false,"zero":false},"axis":null},
"y":{"datum":1684,"type":"quantitative","scale":{"domain":[912,1853],"nice":false,"zero":false},"axis":null},
"text":{"field":"lab"}}}
],
"resolve":{"axis":{"x":"independent","y":"independent"}}},
{"width":604,"height":89.7,
"layer":[
{"mark":{"type":"errorbar","color":"#00ff00","opacity":0.5,"thickness":1.5},
"encoding":{
"x":{"field":"t","type":"quantitative","scale":{"domain":[-9.25,57.27],"nice":false,"zero":false},"axis":{"orient":"bottom","values":[-8,-6,-4,-2,0,2,4,6,8,10,12,14,16,18,20,22,24,26,28,30,32,34,36,38,40,42,44,46,48,50,52,54,56],"labels":false,"title":null,"tickSize":{"condition":{"test":"datum.value % 10 === 0","value":-8},"value":-4}}},
"y":{"field":"b","type":"quantitative","scale":{"domain":[532,954],"nice":false,"zero":false},"axis":{"orient":"left","values":[540,560,580,600,620,640,660,680,700,720,740,760,780,800,820,840,860,880,900,920,940],"format":"d","labelExpr":"datum.value % 100 === 0 ? datum.label : ''","labelPadding":18,"title":null,"tickSize":{"condition":{"test":"datum.value % 100 === 0","value":-8},"value":-4}}},
"yError":{"field":"eb"}}},
{"mark":{"type":"line","interpolate":"step","color":"#00ff00","strokeWidth":1.2},
"encoding":{
"x":{"field":"t","type":"quantitative","scale":{"domain":[-9.25,57.27],"nice":false,"zero":false},"axis":{"orient":"top","values":[-8,-6,-4,-2,0,2,4,6,8,10,12,14,16,18,20,22,24,26,28,30,32,34,36,38,40,42,44,46,48,50,52,54,56],"labels":false,"title":null,"tickSize":{"condition":{"test":"datum.value % 10 === 0","value":-8},"value":-4}}},
"y":{"field":"b","type":"quantitative","scale":{"domain":[532,954],"nice":false,"zero":false},"axis":{"orient":"right","values":[540,560,580,600,620,640,660,680,700,720,740,760,780,800,820,840,860,880,900,920,940],"labels":false,"title":null,"tickSize":{"condition":{"test":"datum.value % 100 === 0","value":-8},"value":-4}}}}},
{"data":{"values":[{"lab":"TH1"}]},
"mark":{"type":"text","align":"right","baseline":"alphabetic","font":"DejaVu Sans","fontSize":14,"color":"#000"},
"encoding":{
"x":{"datum":56.25,"type":"quantitative","scale":{"domain":[-9.25,57.27],"nice":false,"zero":false},"axis":null},
"y":{"datum":879,"type":"quantitative","scale":{"domain":[532,954],"nice":false,"zero":false},"axis":null},
"text":{"field":"lab"}}}
],
"resolve":{"axis":{"x":"independent","y":"independent"}}},
{"width":604,"height":89.7,
"layer":[
{"mark":{"type":"errorbar","color":"#0000ff","opacity":0.5,"thickness":1.5},
"encoding":{
"x":{"field":"t","type":"quantitative","scale":{"domain":[-9.25,57.27],"nice":false,"zero":false},"axis":{"orient":"bottom","values":[-8,-6,-4,-2,0,2,4,6,8,10,12,14,16,18,20,22,24,26,28,30,32,34,36,38,40,42,44,46,48,50,52,54,56],"labels":false,"title":null,"tickSize":{"condition":{"test":"datum.value % 10 === 0","value":-8},"value":-4}}},
"y":{"field":"c","type":"quantitative","scale":{"domain":[593,952],"nice":false,"zero":false},"axis":{"orient":"left","values":[600,620,640,660,680,700,720,740,760,780,800,820,840,860,880,900,920,940],"format":"d","labelExpr":"datum.value % 100 === 0 ? datum.label : ''","labelPadding":18,"title":"Counts/sec","titleX":-60,"titleAnchor":"start","titleBaseline":"alphabetic","titleAngle":-90,"tickSize":{"condition":{"test":"datum.value % 100 === 0","value":-8},"value":-4}}},
"yError":{"field":"ec"}}},
{"mark":{"type":"line","interpolate":"step","color":"#0000ff","strokeWidth":1.2},
"encoding":{
"x":{"field":"t","type":"quantitative","scale":{"domain":[-9.25,57.27],"nice":false,"zero":false},"axis":{"orient":"top","values":[-8,-6,-4,-2,0,2,4,6,8,10,12,14,16,18,20,22,24,26,28,30,32,34,36,38,40,42,44,46,48,50,52,54,56],"labels":false,"title":null,"tickSize":{"condition":{"test":"datum.value % 10 === 0","value":-8},"value":-4}}},
"y":{"field":"c","type":"quantitative","scale":{"domain":[593,952],"nice":false,"zero":false},"axis":{"orient":"right","values":[600,620,640,660,680,700,720,740,760,780,800,820,840,860,880,900,920,940],"labels":false,"title":null,"tickSize":{"condition":{"test":"datum.value % 100 === 0","value":-8},"value":-4}}}}},
{"data":{"values":[{"lab":"TH2"}]},
"mark":{"type":"text","align":"right","baseline":"alphabetic","font":"DejaVu Sans","fontSize":14,"color":"#000"},
"encoding":{
"x":{"datum":56.25,"type":"quantitative","scale":{"domain":[-9.25,57.27],"nice":false,"zero":false},"axis":null},
"y":{"datum":888,"type":"quantitative","scale":{"domain":[593,952],"nice":false,"zero":false},"axis":null},
"text":{"field":"lab"}}}
],
"resolve":{"axis":{"x":"independent","y":"independent"}}},
{"width":604,"height":89.7,
"layer":[
{"mark":{"type":"errorbar","color":"#00ffff","opacity":0.5,"thickness":1.5},
"encoding":{
"x":{"field":"t","type":"quantitative","scale":{"domain":[-9.25,57.27],"nice":false,"zero":false},"axis":{"orient":"bottom","values":[-8,-6,-4,-2,0,2,4,6,8,10,12,14,16,18,20,22,24,26,28,30,32,34,36,38,40,42,44,46,48,50,52,54,56],"labels":false,"title":null,"tickSize":{"condition":{"test":"datum.value % 10 === 0","value":-8},"value":-4}}},
"y":{"field":"d","type":"quantitative","scale":{"domain":[882,1357],"nice":false,"zero":false},"axis":{"orient":"left","values":[900,950,1000,1050,1100,1150,1200,1250,1300,1350],"format":"d","labelExpr":"datum.value % 100 === 0 ? datum.label : ''","labelPadding":18,"title":null,"tickSize":{"condition":{"test":"datum.value % 100 === 0","value":-8},"value":-4}}},
"yError":{"field":"ed"}}},
{"mark":{"type":"line","interpolate":"step","color":"#00ffff","strokeWidth":1.2},
"encoding":{
"x":{"field":"t","type":"quantitative","scale":{"domain":[-9.25,57.27],"nice":false,"zero":false},"axis":{"orient":"top","values":[-8,-6,-4,-2,0,2,4,6,8,10,12,14,16,18,20,22,24,26,28,30,32,34,36,38,40,42,44,46,48,50,52,54,56],"labels":false,"title":null,"tickSize":{"condition":{"test":"datum.value % 10 === 0","value":-8},"value":-4}}},
"y":{"field":"d","type":"quantitative","scale":{"domain":[882,1357],"nice":false,"zero":false},"axis":{"orient":"right","values":[900,950,1000,1050,1100,1150,1200,1250,1300,1350],"labels":false,"title":null,"tickSize":{"condition":{"test":"datum.value % 100 === 0","value":-8},"value":-4}}}}},
{"data":{"values":[{"lab":"TH3"}]},
"mark":{"type":"text","align":"right","baseline":"alphabetic","font":"DejaVu Sans","fontSize":14,"color":"#000"},
"encoding":{
"x":{"datum":56.25,"type":"quantitative","scale":{"domain":[-9.25,57.27],"nice":false,"zero":false},"axis":null},
"y":{"datum":1272,"type":"quantitative","scale":{"domain":[882,1357],"nice":false,"zero":false},"axis":null},
"text":{"field":"lab"}}}
],
"resolve":{"axis":{"x":"independent","y":"independent"}}},
{"width":604,"height":89.7,
"layer":[
{"mark":{"type":"errorbar","color":"#ff00ff","opacity":0.5,"thickness":1.5},
"encoding":{
"x":{"field":"t","type":"quantitative","scale":{"domain":[-9.25,57.27],"nice":false,"zero":false},"axis":{"orient":"bottom","values":[-8,-6,-4,-2,0,2,4,6,8,10,12,14,16,18,20,22,24,26,28,30,32,34,36,38,40,42,44,46,48,50,52,54,56],"format":"d","labelExpr":"datum.value % 10 === 0 ? datum.label : ''","labelPadding":15,"title":"Time [sec] 0 = 2013/06/29 11:24:36.608","titleFontSize":13,"titleX":291,"titleY":34,"titleBaseline":"alphabetic","titleAlign":"center","tickSize":{"condition":{"test":"datum.value % 10 === 0","value":-8},"value":-4}}},
"y":{"field":"e","type":"quantitative","scale":{"domain":[3324,4680],"nice":false,"zero":false},"axis":{"orient":"left","values":[3400,3500,3600,3700,3800,3900,4000,4100,4200,4300,4400,4500,4600],"format":"d","labelExpr":"datum.value % 500 === 0 ? datum.label : ''","labelPadding":18,"title":null,"tickSize":{"condition":{"test":"datum.value % 500 === 0","value":-8},"value":-4}}},
"yError":{"field":"ee"}}},
{"mark":{"type":"line","interpolate":"step","color":"#ff00ff","strokeWidth":1.2},
"encoding":{
"x":{"field":"t","type":"quantitative","scale":{"domain":[-9.25,57.27],"nice":false,"zero":false},"axis":{"orient":"top","values":[-8,-6,-4,-2,0,2,4,6,8,10,12,14,16,18,20,22,24,26,28,30,32,34,36,38,40,42,44,46,48,50,52,54,56],"labels":false,"title":null,"tickSize":{"condition":{"test":"datum.value % 10 === 0","value":-8},"value":-4}}},
"y":{"field":"e","type":"quantitative","scale":{"domain":[3324,4680],"nice":false,"zero":false},"axis":{"orient":"right","values":[3400,3500,3600,3700,3800,3900,4000,4100,4200,4300,4400,4500,4600],"labels":false,"title":null,"tickSize":{"condition":{"test":"datum.value % 500 === 0","value":-8},"value":-4}}}}},
{"data":{"values":[{"lab":"TH0123"}]},
"mark":{"type":"text","align":"right","baseline":"alphabetic","font":"DejaVu Sans","fontSize":14,"color":"#000"},
"encoding":{
"x":{"datum":56.9,"type":"quantitative","scale":{"domain":[-9.25,57.27],"nice":false,"zero":false},"axis":null},
"y":{"datum":4440,"type":"quantitative","scale":{"domain":[3324,4680],"nice":false,"zero":false},"axis":null},
"text":{"field":"lab"}}}
],
"resolve":{"axis":{"x":"independent","y":"independent"}}}
]
}
